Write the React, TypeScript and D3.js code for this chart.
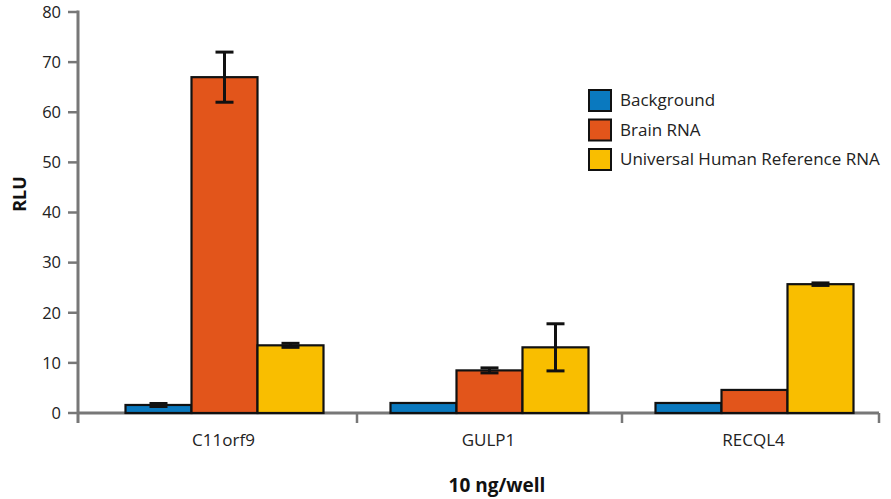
import * as d3 from "d3";

const genes = ["C11orf9", "GULP1", "RECQL4"];
const seriesNames = ["Background", "Brain RNA", "Universal Human Reference RNA"];
const seriesColors = ["#0a79bf", "#e2551b", "#f9be00"];
const background = [1.6, 2.0, 2.0];
const backgroundErr = [0.3, 0, 0];
const brain = [67.0, 8.5, 4.6];
const brainErr = [5.0, 0.5, 0];
const uhr = [13.5, 13.1, 25.7];
const uhrErr = [0.4, 4.7, 0.25];
const yTicks = [0, 10, 20, 30, 40, 50, 60, 70, 80];

const W = 891;
const H = 499;
const font = "'Open Sans', 'Noto Sans', sans-serif";

export default function App() {
  const values = [background, brain, uhr];
  const errors = [backgroundErr, brainErr, uhrErr];

  const y = d3.scaleLinear().domain([0, 80]).range([413, 12]);
  const x = d3.scaleBand<string>().domain(genes).range([92, 887]);
  const xSub = d3
    .scaleBand<string>()
    .domain(seriesNames)
    .range([33.5, x.bandwidth() - 33.5]);

  const axisX = 78;
  const axisEnd = 879;
  const sepTicks = [x.range()[0] + x.step(), x.range()[0] + 2 * x.step(), axisEnd];

  return (
    <svg width={W} height={H} style={{ position: "absolute", left: 0, top: 0 }} fontFamily={font}>
      {/* y axis */}
      <line x1={axisX} x2={axisX} y1={y(80) - 1.5} y2={423} stroke="#777" strokeWidth={3} />
      {yTicks.map((t) => (
        <g key={t}>
          <line x1={68} x2={axisX} y1={y(t)} y2={y(t)} stroke="#777" strokeWidth={2.5} />
          <text x={61} y={y(t)} dy="0.35em" textAnchor="end" fontSize={16.5} fill="#222">
            {t}
          </text>
        </g>
      ))}
      {/* x axis */}
      <line x1={axisX} x2={axisEnd} y1={y(0)} y2={y(0)} stroke="#777" strokeWidth={3} />
      {sepTicks.map((sx, i) => (
        <line key={i} x1={sx} x2={sx} y1={y(0)} y2={423} stroke="#777" strokeWidth={2.5} />
      ))}

      {/* bars */}
      {genes.map((g, gi) => (
        <g key={g} transform={`translate(${x(g)},0)`}>
          {seriesNames.map((s, si) => {
            const v = values[si][gi];
            const e = errors[si][gi];
            const bx = xSub(s) ?? 0;
            const cx = bx + xSub.bandwidth() / 2;
            return (
              <g key={s}>
                <rect
                  x={bx}
                  y={y(v)}
                  width={xSub.bandwidth()}
                  height={y(0) - y(v)}
                  fill={seriesColors[si]}
                  stroke="#111"
                  strokeWidth={2.2}
                />
                {e > 0 && (
                  <g stroke="#111" strokeWidth={3}>
                    <line x1={cx} x2={cx} y1={y(v + e)} y2={y(v - e)} />
                    <line x1={cx - 9} x2={cx + 9} y1={y(v + e)} y2={y(v + e)} />
                    <line x1={cx - 9} x2={cx + 9} y1={y(v - e)} y2={y(v - e)} />
                  </g>
                )}
              </g>
            );
          })}
          <text
            x={x.bandwidth() / 2 - 1}
            y={446}
            textAnchor="middle"
            fontSize={17}
            fill="#222"
          >
            {g}
          </text>
        </g>
      ))}

      {/* legend */}
      {seriesNames.map((s, i) => (
        <g key={s} transform={`translate(589,${90 + i * 29.5})`}>
          <rect width={22} height={21} fill={seriesColors[i]} stroke="#111" strokeWidth={2} />
          <text x={31} y={10.5} dy="0.35em" fontSize={17} fill="#222">
            {s}
          </text>
        </g>
      ))}

      {/* axis titles */}
      <text
        transform="translate(26,194) rotate(-90)"
        textAnchor="middle"
        fontSize={18}
        fontWeight="bold"
        fill="#111"
      >
        RLU
      </text>
      <text x={497} y={492} textAnchor="middle" fontSize={19} fontWeight="bold" fill="#111">
        10 ng/well
      </text>
    </svg>
  );
}
